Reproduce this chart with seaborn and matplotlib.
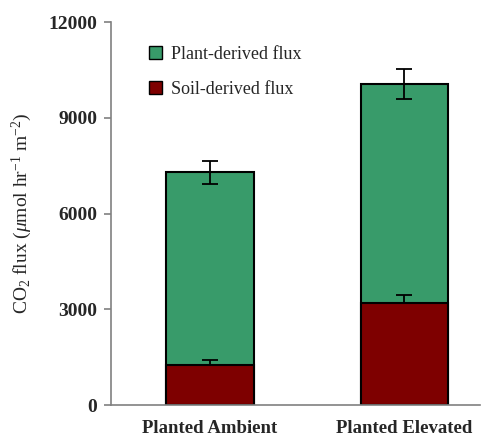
import matplotlib
matplotlib.use("Agg")
import matplotlib.pyplot as plt
import seaborn as sns
import pandas as pd
from matplotlib.patches import Patch

categories = ["Planted Ambient", "Planted Elevated"]
total_flux = [7300, 10060]
total_err = [360, 460]
soil_flux = [1250, 3210]
soil_err = [160, 240]
series_names = ["Plant-derived flux", "Soil-derived flux"]
yticks = [0, 3000, 6000, 9000, 12000]

green = "#389B6A"
red = "#7E0000"

sns.set_theme(style="white")
plt.rcParams['font.family'] = ['Liberation Serif', 'DejaVu Serif']
plt.rcParams['mathtext.fontset'] = 'custom'
plt.rcParams['mathtext.rm'] = 'Liberation Serif'
plt.rcParams['mathtext.it'] = 'Liberation Serif:italic'

df = pd.DataFrame({"cat": categories, "total": total_flux, "soil": soil_flux})

fig = plt.figure(figsize=(4.9, 4.4), dpi=100)
ax = fig.add_axes([0.2265, 0.0795, 0.7535, 0.8705])

sns.barplot(data=df, x="cat", y="total", color=green, width=0.45,
            edgecolor="black", linewidth=1.5, saturation=1, ax=ax, errorbar=None)
sns.barplot(data=df, x="cat", y="soil", color=red, width=0.45,
            edgecolor="black", linewidth=1.5, saturation=1, ax=ax, errorbar=None)

xs = list(range(len(categories)))
ax.errorbar(xs, total_flux, yerr=total_err, fmt="none", ecolor="black",
            elinewidth=1.3, capsize=6, capthick=1.3, zorder=5)
ax.errorbar(xs, soil_flux, yerr=[[0]*len(soil_err), soil_err], fmt="none", ecolor="black",
            elinewidth=1.3, capsize=6, capthick=1.3, zorder=5)

ax.set_xlim(-0.51, 1.39)
ax.set_ylim(0, 12000)
ax.set_yticks(yticks)
ax.set_yticklabels([str(v) for v in yticks], fontsize=14, fontweight="bold")
ax.set_xticks(xs)
ax.set_xticklabels(categories, fontsize=13.5, fontweight="bold")
ax.set_xlabel("")
ax.set_ylabel(r"CO$_2$ flux ($\mu$mol hr$^{-1}$ m$^{-2}$)", fontsize=14, labelpad=10)

for s in ["top", "right"]:
    ax.spines[s].set_visible(False)
for s in ["left", "bottom"]:
    ax.spines[s].set_color("#808080")
    ax.spines[s].set_linewidth(1.2)
ax.tick_params(axis="y", which="both", left=True, length=5, color="#808080", width=1.2, pad=5)
ax.tick_params(axis="x", bottom=False, pad=5)

handles = [Patch(facecolor=green, edgecolor="black", label=series_names[0]),
           Patch(facecolor=red, edgecolor="black", label=series_names[1])]
ax.legend(handles=handles, loc="upper left", bbox_to_anchor=(0.06, 0.98), frameon=False,
          fontsize=13, handlelength=0.7, handleheight=0.7, handletextpad=0.5, labelspacing=1.0)

fig.savefig("out.png", dpi=100)
